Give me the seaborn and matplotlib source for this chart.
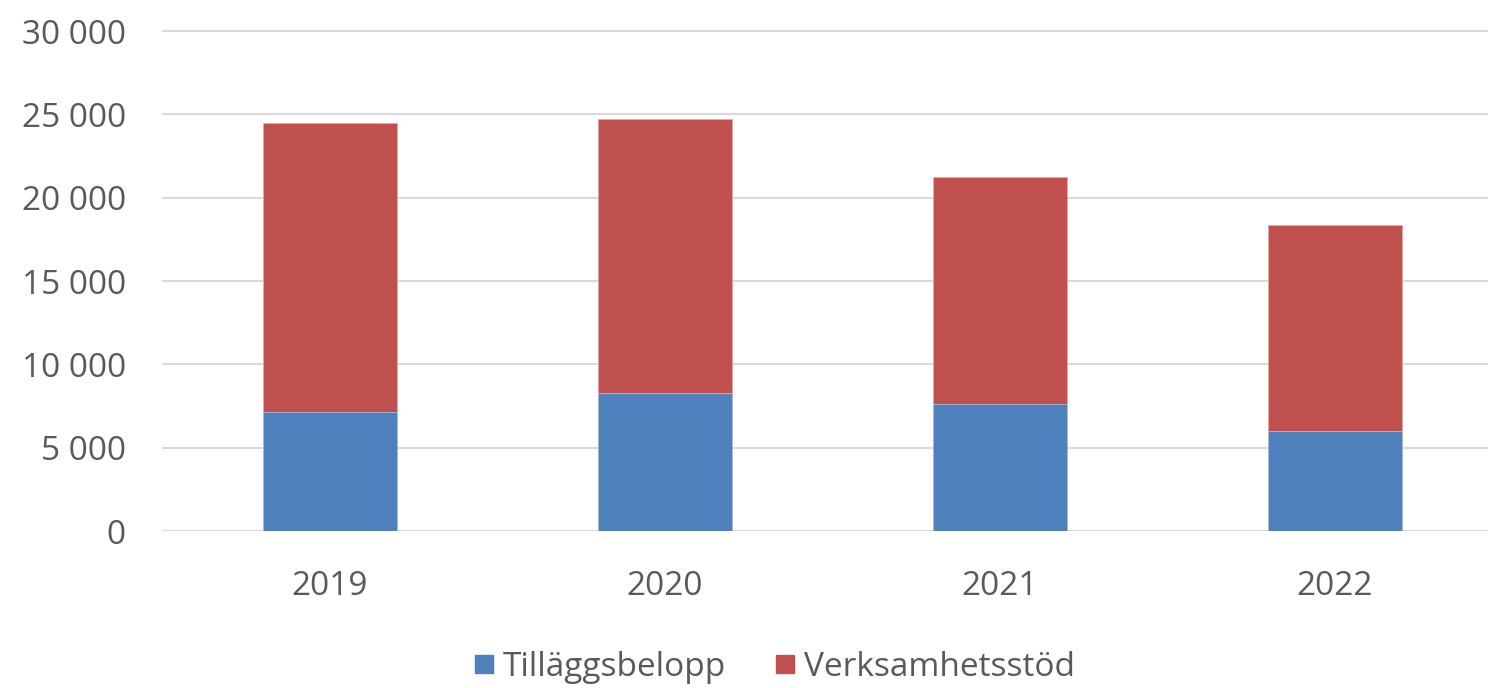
import pandas as pd
import matplotlib.pyplot as plt
from matplotlib.lines import Line2D
from matplotlib.ticker import FuncFormatter
import seaborn as sns

years = ['2019', '2020', '2021', '2022']
tillaggsbelopp = [7140, 8260, 7640, 6020]
verksamhetsstod = [17360, 16480, 13620, 12340]

BLUE = '#4F81BD'
RED = '#C0504D'
TEXT = '#595959'
GRID = '#D9D9D9'

df = pd.DataFrame({'År': years, 'Tilläggsbelopp': tillaggsbelopp,
                   'Verksamhetsstöd': verksamhetsstod})
df['Totalt'] = df['Tilläggsbelopp'] + df['Verksamhetsstöd']

sns.set_theme(style='white')
plt.rcParams['font.family'] = ['Open Sans', 'DejaVu Sans']

W, H = 1488, 688
fig = plt.figure(figsize=(W / 100, H / 100), dpi=100)
ax = fig.add_axes([162 / W, (H - 531) / H, (W - 162) / W, 505 / H])

# stacked: total in red behind, blue part in front
sns.barplot(data=df, x='År', y='Totalt', color=RED, width=0.4, saturation=1,
            edgecolor='#E6A9A8', linewidth=0.6, ax=ax, zorder=3)
sns.barplot(data=df, x='År', y='Tilläggsbelopp', color=BLUE, width=0.4, saturation=1,
            edgecolor='#A7C0DE', linewidth=0.6, ax=ax, zorder=4)

ax.set_xlim(-0.5, 3.5 - 14 / 335)
ax.set_ylim(0, 30300)
ax.set_yticks(range(0, 30001, 5000))
ax.yaxis.set_major_formatter(FuncFormatter(lambda v, p: f'{int(v):,}'.replace(',', ' ')))
ax.grid(axis='y', color=GRID, linewidth=1.5, zorder=0)
ax.set_axisbelow(True)
for s in ax.spines.values():
    s.set_visible(False)
ax.set_xlabel('')
ax.set_ylabel('')
ax.tick_params(axis='y', length=0, pad=26, labelsize=24, labelcolor=TEXT)
ax.tick_params(axis='x', length=0, pad=28, labelsize=24, labelcolor=TEXT)

handles = [Line2D([], [], marker='s', linestyle='', markersize=13, color=BLUE),
           Line2D([], [], marker='s', linestyle='', markersize=13, color=RED)]
fig.legend(handles, ['Tilläggsbelopp', 'Verksamhetsstöd'], loc='center',
           bbox_to_anchor=(775 / W, 1 - 667 / H), ncol=2, frameon=False,
           fontsize=24, labelcolor=TEXT, handlelength=0.55, handletextpad=0.3,
           columnspacing=1.5)

fig.savefig('out.png', dpi=100)
